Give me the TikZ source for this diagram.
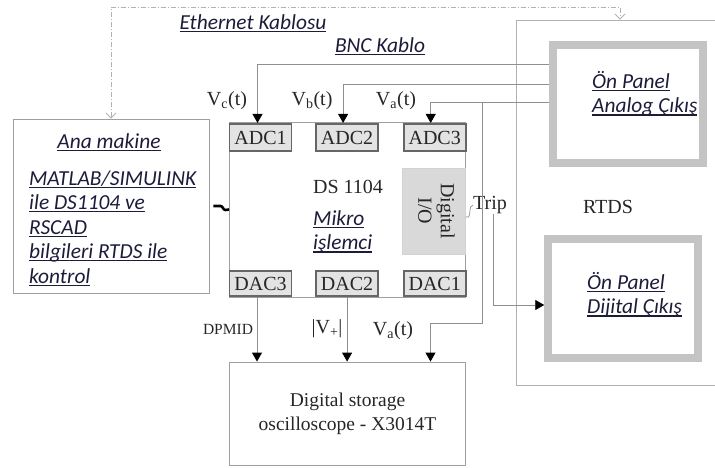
\documentclass[tikz,border=0pt]{standalone}
\usepackage{fontspec}
\setmainfont{Liberation Serif}
\newfontfamily\uifont{Carlito}
\usepackage{xcolor}
\usepackage{tikz}
\usetikzlibrary{shapes,arrows,arrows.meta,positioning}

\definecolor{uiblue}{HTML}{1C1C3A}
\definecolor{linegray}{HTML}{8F8F8F}
\definecolor{panelgray}{HTML}{C4C4C4}
\newsavebox{\ulnbox}
\newcommand{\uln}[1]{\sbox\ulnbox{#1}\rlap{\rule[-2.6pt]{\wd\ulnbox}{1.1pt}}\usebox\ulnbox}
\newcommand{\serifsize}{\fontsize{20}{22.5}\selectfont}

\begin{document}
\begin{tikzpicture}[x=1pt, y=-1pt,
    % Styles for the test bench blocks
    block/.style={rectangle, draw=gray!75, line width=0.9pt, inner sep=0pt},
    portbox/.style={rectangle, draw=black!60, line width=1.6pt, fill=gray!22, minimum width=62pt, minimum height=27.5pt, inner sep=0pt, font=\serifsize, text=black!85},
    panel/.style={rectangle, draw=panelgray, line width=8pt, minimum width=150pt, minimum height=118pt},
    uitext/.style={font=\uifont\itshape\fontsize{21.4}{24.5}\selectfont, text=uiblue, inner sep=0pt},
    lbl/.style={font=\serifsize, text=black!85, inner sep=0pt},
    line/.style={draw, linegray, line width=0.9pt, -{Triangle[black, length=9pt, width=10pt]}},
    ethline/.style={draw, gray!60, line width=0.9pt, dash pattern=on 5pt off 2pt on 1pt off 2pt, {Straight Barb[length=5pt,width=10pt]}-{Straight Barb[length=5pt,width=10pt]}},
    squiggle/.style={draw, black, line width=2.6pt}]

    \useasboundingbox (0,0) rectangle (715,467);

    % Node: Ana makine (host PC)
    \node [block, minimum width=196pt, minimum height=174pt] (ana) at (111,206) {};
    \node [uitext] (anaTitle) at (109,142) {\uln{Ana makine}};
    \node [uitext, align=left, anchor=west] (anaBody) at (29,228) {\uln{MATLAB/SIMULINK}\\ \uln{ile DS1104 ve}\\ \uln{RSCAD}\\ \uln{bilgileri RTDS ile}\\ \uln{kontrol}};

    % Node: DS1104 board
    \node [block, minimum width=236pt, minimum height=175pt] (ds) at (347.5,209.5) {};
    \node [portbox] (adc1) at (260.5,137.5) {ADC1};
    \node [portbox, right=23pt of adc1] (adc2) {ADC2};
    \node [portbox, right=24pt of adc2] (adc3) {ADC3};
    \node [portbox, minimum height=25.5pt] (dac3) at (260.5,283.5) {DAC3};
    \node [portbox, minimum height=25.5pt, right=23pt of dac3] (dac2) {DAC2};
    \node [portbox, minimum height=25.5pt, right=24pt of dac2] (dac1) {DAC1};
    \node [rectangle, draw=gray!35, fill=gray!30, minimum width=63pt, minimum height=86pt, inner sep=0pt, font=\serifsize, text=black!85] (dio) at (434,211) {\rotatebox{-90}{\begin{tabular}{@{}c@{}}Digital\\I/O\end{tabular}}};
    \node [lbl] (dsName) at (348,187) {DS 1104};
    \node [uitext, align=left, anchor=west] (mikro) at (313,232) {\uln{Mikro}\\ \uln{işlemci}};

    % Node: oscilloscope
    \node [block, minimum width=236pt, minimum height=103pt, align=center, font=\fontsize{19.5}{24}\selectfont, text=black!85] (osc) at (347.5,413.5) {Digital storage\\oscilloscope - X3014T};

    % Node: RTDS with its front panels
    \node [block, draw=gray!60, minimum width=224pt, minimum height=365pt] (rtds) at (628,202.5) {};
    \node [lbl] (rtdsName) at (608,207) {RTDS};
    \node [panel] (anPanel) at (628,104) {};
    \node [uitext, align=left, anchor=west] (anText) at (592,94) {\uln{Ön Panel}\\ \uln{Analog Çıkış}};
    \node [panel, minimum width=149.5pt, minimum height=118.5pt] (digPanel) at (623,298.5) {};
    \node [uitext, align=left, anchor=west] (digText) at (587,295) {\uln{Ön Panel}\\ \uln{Dijital Çıkış}};

    % Labels
    \node [uitext] (ethLabel) at (253,23) {\uln{Ethernet Kablosu}};
    \node [uitext] (bncLabel) at (380,46) {\uln{BNC Kablo}};
    \node [lbl] (vcLabel) at (227,101) {V\textsubscript{c}(t)};
    \node [lbl] (vbLabel) at (312,101) {V\textsubscript{b}(t)};
    \node [lbl] (vaLabel) at (396,101) {V\textsubscript{a}(t)};
    \node [lbl, font=\fontsize{15.5}{17}\selectfont] (dpmid) at (228,329) {DPMID};
    \node [lbl] (vplus) at (327,329) {|V\textsubscript{+}|};
    \node [lbl] (vaScope) at (393,331) {V\textsubscript{a}(t)};
    \node [lbl] (trip) at (490,205) {Trip};

    % Edges
    % Ethernet cable between host and RTDS
    \coordinate (ethTurn) at (620,7);
    \path [ethline] (ana.north) |- (ethTurn) -- (ethTurn |- rtds.north);

    % Host link to the board
    \path [squiggle] (ana.east) ++(4,0) -- ++(7,0) to[out=0,in=180] ++(5,4) -- (ds.west);

    % BNC cables from analog panel
    \path [line] ([yshift=40pt]anPanel.west) -| ([xshift=-3pt]adc1.north);
    \path [line] ([yshift=20pt]anPanel.west) -| ([xshift=-4pt]adc2.north);
    \path [line] ([yshift=2pt]anPanel.west) -| ([xshift=-4pt]adc3.north);
    \coordinate (vaTap) at (482,102);
    \path [line] (vaTap) -- ++(0,221) -| ([xshift=83pt]osc.north);

    % DAC outputs to scope
    \path [line] (dac3.south) ++(-3.5,0) coordinate (d3) -- (d3 |- osc.north);
    \path [line] (dac2.south) -- (dac2.south |- osc.north);

    % Trip signal
    \draw [linegray, line width=0.7pt] ([yshift=-6pt]dio.east) -- ++(3,0) to[out=60,in=200] (trip.west);
    \path [line] (trip.south) ++(3,0) coordinate (tripDown) |- ([yshift=-6.5pt]digPanel.west);

\end{tikzpicture}
\end{document}
